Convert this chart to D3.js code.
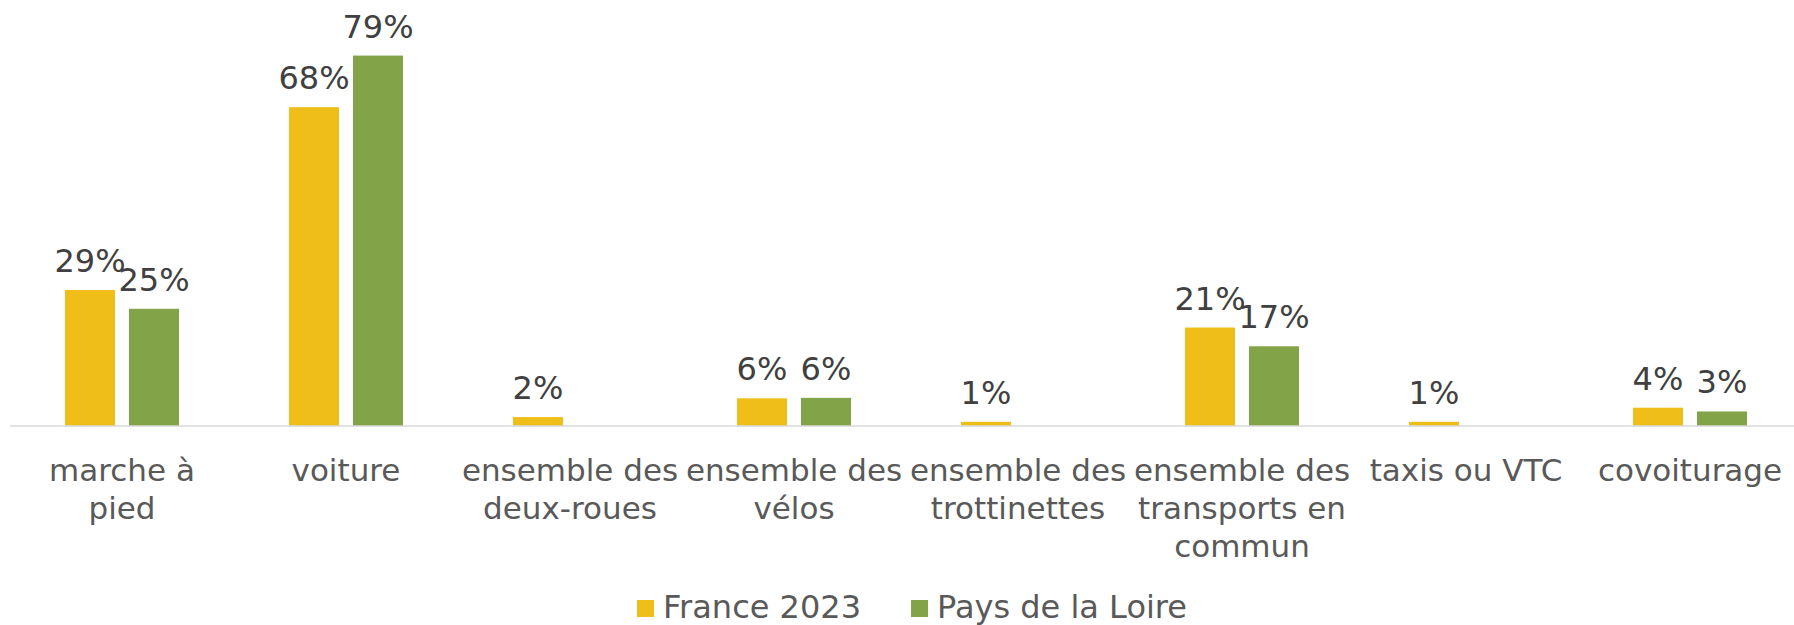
<!DOCTYPE html>
<html>
<head>
<meta charset="utf-8">
<script src="https://cdn.jsdelivr.net/npm/d3@7"></script>
<style>
  html, body { margin: 0; padding: 0; background: #fff; }
  svg { display: block; font-family: "DejaVu Sans", Verdana, sans-serif; }
</style>
</head>
<body>
<svg id="chart" width="1794" height="625"></svg>
<script>
// categories (line breaks as in the original labels)
const categories = [
  "marche à\npied",
  "voiture",
  "ensemble des\ndeux-roues",
  "ensemble des\nvélos",
  "ensemble des\ntrottinettes",
  "ensemble des\ntransports en\ncommun",
  "taxis ou VTC",
  "covoiturage"
]
const seriesNames = ["France 2023", "Pays de la Loire"]
const seriesColors = ["#F0BE19", "#82A348"]

// values in % (null = no bar)
const france2023 = [29, 68, 1.9, 5.9, 0.9, 21, 0.9, 3.9]
const paysDeLaLoire = [25, 79, null, 6.0, null, 17, null, 3.1]

const W = 1794, H = 625
const baseY = 426

const svg = d3.select("#chart")

const x0 = d3.scaleBand()
  .domain(categories)
  .range([10, 1802])
  .paddingInner(0).paddingOuter(0)

const x1 = d3.scaleBand()
  .domain(seriesNames)
  .range([0, x0.bandwidth()])
  .paddingInner(0.21875)
  .paddingOuter(0.859375)

const y = d3.scaleLinear()
  .domain([0, 90])
  .range([baseY, 4])

const color = d3.scaleOrdinal().domain(seriesNames).range(seriesColors)

const rows = categories.map((c, i) => ({
  cat: c,
  vals: [
    { s: seriesNames[0], v: france2023[i] },
    { s: seriesNames[1], v: paysDeLaLoire[i] }
  ].filter(d => d.v != null)
}))

const fmt = v => d3.format(".0f")(v) + "%"

const groups = svg.append("g")
  .selectAll("g")
  .data(rows)
  .enter()
  .append("g")
  .attr("transform", d => `translate(${x0(d.cat)},0)`)

groups.selectAll("rect")
  .data(d => d.vals)
  .enter()
  .append("rect")
  .attr("x", d => x1(d.s))
  .attr("width", x1.bandwidth())
  .attr("y", d => y(d.v))
  .attr("height", d => baseY - y(d.v))
  .style("fill", d => color(d.s))

groups.selectAll("text")
  .data(d => d.vals)
  .enter()
  .append("text")
  .attr("x", d => x1(d.s) + x1.bandwidth() / 2)
  .attr("y", d => y(d.v) - 18)
  .attr("text-anchor", "middle")
  .style("font-size", "32px")
  .style("fill", "#404040")
  .text(d => fmt(d.v))

// x axis
const xAxis = svg.append("g")
  .attr("transform", `translate(0,${baseY})`)
  .call(d3.axisBottom(x0).tickSize(0).tickSizeOuter(0))
  .attr("font-family", null)
  .attr("font-size", null)

xAxis.select(".domain")
  .attr("stroke", "#D9D9D9")
  .attr("stroke-width", 1.5)
  .attr("d", `M10,0H${W}`)

xAxis.selectAll(".tick text").each(function(d) {
  const t = d3.select(this)
  t.text(null).attr("y", null).attr("dy", null)
    .style("font-family", '"DejaVu Sans", Verdana, sans-serif')
    .style("font-size", "31px")
    .style("fill", "#595959")
  d.split("\n").forEach((line, i) => {
    t.append("tspan").attr("x", 0).attr("y", 55 + i * 38).text(line)
  })
})

// legend
const legend = svg.append("g")
let lx = 637
seriesNames.forEach((s, i) => {
  const g = legend.append("g").attr("transform", `translate(${lx},0)`)
  g.append("rect")
    .attr("x", 0).attr("y", 600)
    .attr("width", 17).attr("height", 17)
    .style("fill", color(s))
  const t = g.append("text")
    .attr("x", 26).attr("y", 618)
    .style("font-size", "32px")
    .style("fill", "#595959")
    .text(s)
  lx += 26 + t.node().getComputedTextLength() + 50
})
</script>
</body>
</html>
